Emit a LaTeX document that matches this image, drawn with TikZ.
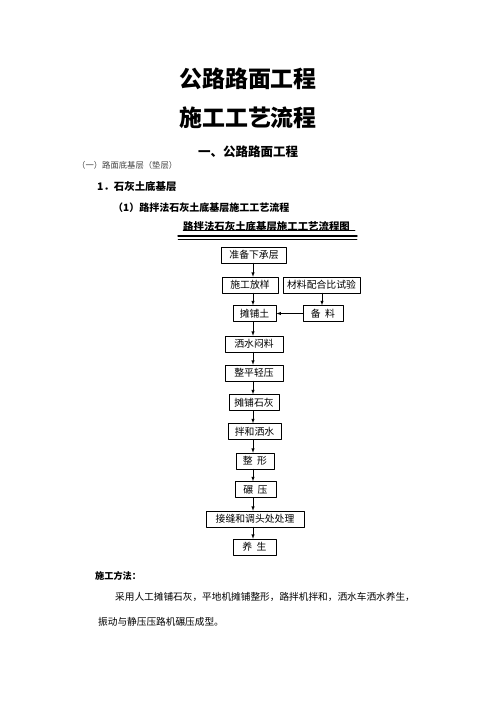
\documentclass[tikz,border=0pt]{standalone}
\usepackage{fontspec}
\setmainfont{Noto Sans CJK SC}
\usetikzlibrary{arrows}

\tikzset{
    stepbox/.style={draw=black, line width=0.8pt, minimum height=19pt, inner xsep=2pt, inner ysep=1pt, font=\fontsize{11.8}{12}\selectfont},
    flow/.style={-latex, line width=0.8pt}
}

\begin{document}
\begin{tikzpicture}[line cap=round,line join=round,x=1.2pt,y=-1.2pt]
    \useasboundingbox (0,0) rectangle (496,702);

    % headings
    \node[font=\fontsize{27.5}{28}\selectfont\bfseries] (T1) at (248,79) {公路路面工程};
    \node[font=\fontsize{27.5}{28}\selectfont\bfseries] (T2) at (248,118) {施工工艺流程};
    \node[font=\fontsize{15}{16}\selectfont\bfseries] (H1) at (248,152) {一、公路路面工程};
    \node[anchor=west, inner sep=0pt, text=black!75, font=\fontsize{10}{11}\selectfont] (H2) at (77,165) {（一）路面底基层（垫层）};
    \node[anchor=west, inner sep=0pt, font=\fontsize{12.5}{13}\selectfont\bfseries] (H3) at (97,187) {1．石灰土底基层};
    \node[anchor=west, inner sep=0pt, font=\fontsize{12}{13}\selectfont\bfseries] (H4) at (113,208) {（1）路拌法石灰土底基层施工工艺流程};
    \node[anchor=west, inner sep=0pt, font=\fontsize{12.5}{13}\selectfont\bfseries] (CAP) at (183,227) {路拌法石灰土底基层施工工艺流程图};
    \draw[line width=0.6pt] (CAP.south west) ++(0,-1.5) -- ++(172,0);
    \draw[line width=1.6pt] (178,236) -- (357,236);
    \draw[line width=0.6pt] (178,239.5) -- (357,239.5);

    % flow chart
    \node[stepbox, minimum width=78pt] (A) at (254,255) {准备下承层};
    \node[stepbox, minimum width=67pt] (B) at (250,285) {施工放样};
    \node[stepbox, minimum width=92pt] (C) at (321.5,285) {材料配合比试验};
    \node[stepbox, minimum width=52pt] (D) at (254.5,313.5) {摊铺土};
    \node[stepbox, minimum width=48pt] (E) at (323,313.5) {备\ \ 料};
    \node[stepbox, minimum width=70pt] (F) at (254,344) {洒水闷料};
    \node[stepbox, minimum width=70pt] (G) at (254,373) {整平轻压};
    \node[stepbox, minimum width=60pt] (H) at (254,402.5) {摊铺石灰};
    \node[stepbox, minimum width=64pt] (I) at (254.5,431.5) {拌和洒水};
    \node[stepbox, minimum width=46pt] (J) at (255,461) {整\ \ 形};
    \node[stepbox, minimum width=49pt] (K) at (255.5,489.5) {碾\ \ 压};
    \node[stepbox, minimum width=118pt] (L) at (255,519) {接缝和调头处处理};
    \node[stepbox, minimum width=52pt] (M) at (254.5,547) {养\ \ 生};

    % Edges
    \foreach \source/\target in {A/B, B/D, D/F, F/G, G/H, H/I, I/J, J/K, K/L, L/M} {
            \draw[flow] (\source.south -| 253,0) -- (\target.north -| 253,0);
        }
    \draw[flow] (C.south -| 322,0) -- (E.north -| 322,0);
    \draw[flow] (E) -- (D);

    % method
    \node[anchor=west, inner sep=0pt, font=\fontsize{11}{12}\selectfont\bfseries] (S) at (95,576) {施工方法：};
    \node[anchor=west, inner sep=0pt, font=\fontsize{11.6}{12}\selectfont] (P1) at (115,597) {采用人工摊铺石灰，平地机摊铺整形，路拌机拌和，洒水车洒水养生，};
    \node[anchor=west, inner sep=0pt, font=\fontsize{11.6}{12}\selectfont] (P2) at (98,622) {振动与静压压路机碾压成型。};
\end{tikzpicture}
\end{document}
